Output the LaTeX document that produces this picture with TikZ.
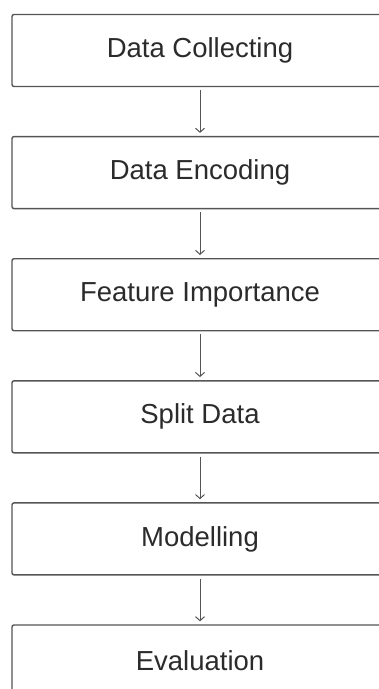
\documentclass[tikz,border=0pt]{standalone}
\usepackage{fontspec}
\setmainfont{Liberation Sans}
\usepackage{xcolor}
\usetikzlibrary{arrows.meta,positioning}
\definecolor{boxgray}{HTML}{555555}
\definecolor{txtgray}{HTML}{2B2B2B}

\begin{document}
\begin{tikzpicture}[
node distance=48.7pt,
every node/.style={font=\fontsize{27.5}{32}\selectfont,text=txtgray},
stage/.style={draw=boxgray,line width=1.4pt,rounded corners=2pt,minimum width=376pt,minimum height=72pt,inner sep=0pt},
arr/.style={-{Straight Barb[length=4pt,width=9pt]},line width=1pt,color=boxgray,shorten <=3pt,shorten >=3pt}
]
\useasboundingbox (0,0) rectangle (379pt,-689pt);
\node[stage] (collect) at (200pt,-50.5pt) {Data Collecting};
\node[stage,below=of collect] (encode) {Data Encoding};
\node[stage,below=of encode] (feature) {Feature Importance};
\node[stage,below=of feature] (split) {Split Data};
\node[stage,below=of split] (model) {Modelling};
\node[stage,below=of model] (eval) {Evaluation};
\draw[arr] (collect) -- (encode);
\draw[arr] (encode) -- (feature);
\draw[arr] (feature) -- (split);
\draw[arr] (split) -- (model);
\draw[arr] (model) -- (eval);
\end{tikzpicture}
\end{document}
